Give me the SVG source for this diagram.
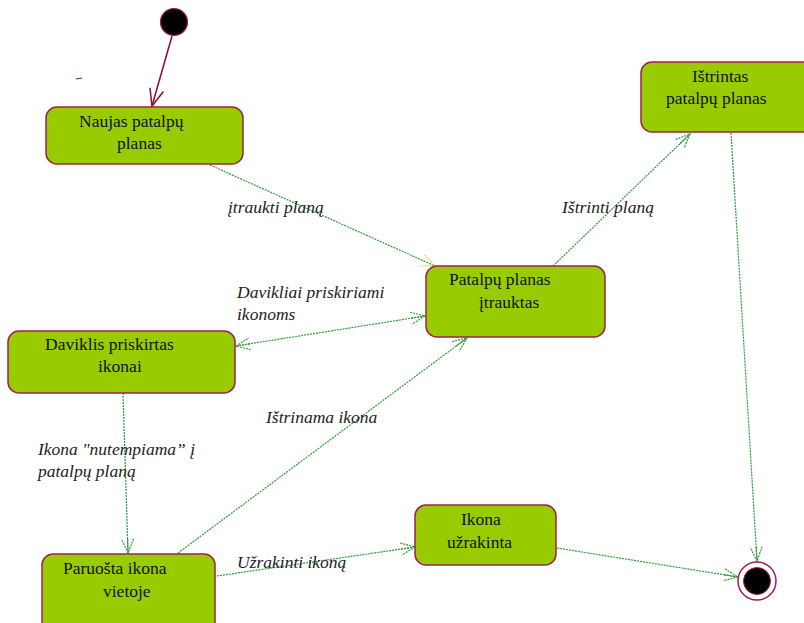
<svg xmlns="http://www.w3.org/2000/svg" width="804" height="623" viewBox="0 0 804 623">
  <style>
    .state rect { fill: #99cc00; stroke: #a0204a; stroke-width: 1.5; }
    .state text { font-family: "Liberation Serif", "Times New Roman", serif; font-size: 17.5px; fill: #111; }
    .lbl { font-family: "Liberation Serif", "Times New Roman", serif; font-size: 17.5px; font-style: italic; fill: #222; }
    .flow { fill: none; stroke: #2e9b3a; stroke-width: 1.2; stroke-dasharray: 2 1; }
  </style>
  <defs>
    <marker id="open" markerUnits="userSpaceOnUse" markerWidth="20" markerHeight="16" refX="15" refY="7" orient="auto-start-reverse" viewBox="0 0 20 16">
      <path d="M1,1 L15,7 L1,13 M1,7 L15,7" fill="none" stroke="#2e9b3a" stroke-width="1.2" stroke-dasharray="2 1"/>
    </marker>
    <marker id="openLight" markerUnits="userSpaceOnUse" markerWidth="20" markerHeight="16" refX="15" refY="7" orient="auto" viewBox="0 0 20 16">
      <path d="M1,1 L15,7 L1,13" fill="none" stroke="#c8e060" stroke-width="1.2" stroke-dasharray="2 1"/>
    </marker>
    <marker id="solid" markerUnits="userSpaceOnUse" markerWidth="22" markerHeight="16" refX="18" refY="8" orient="auto" viewBox="0 0 22 16">
      <path d="M1,1 L18,8 L1,15" fill="none" stroke="#8b0a3c" stroke-width="1.5"/>
    </marker>
  </defs>

  <!-- transitions -->
  <g id="connectors">
    <line x1="172" y1="36" x2="152" y2="106" stroke="#8b0a3c" stroke-width="1.5" marker-end="url(#solid)"/>
    <line x1="76" y1="79" x2="82" y2="78" stroke="#8b0a3c" stroke-width="1"/>
    <line class="flow" x1="210" y1="165" x2="435" y2="266" marker-end="url(#openLight)"/>
    <line class="flow" x1="553" y1="266" x2="690" y2="134" marker-end="url(#open)"/>
    <line class="flow" x1="731" y1="133" x2="757" y2="561" marker-end="url(#open)"/>
    <line class="flow" x1="236" y1="346" x2="425" y2="316" marker-start="url(#open)" marker-end="url(#open)"/>
    <line class="flow" x1="123" y1="393" x2="128" y2="553" marker-end="url(#open)"/>
    <line class="flow" x1="178" y1="553" x2="467" y2="338" marker-end="url(#open)"/>
    <line class="flow" x1="217" y1="576" x2="415" y2="547" marker-end="url(#open)"/>
    <line class="flow" x1="557" y1="548" x2="738" y2="577" marker-end="url(#open)"/>

    <text class="lbl" x="228" y="213">įtraukti planą</text>
    <text class="lbl" x="562" y="213">Ištrinti planą</text>
    <text class="lbl" x="237" y="298">Davikliai priskiriami</text>
    <text class="lbl" x="237" y="320">ikonoms</text>
    <text class="lbl" x="38" y="455">Ikona "nutempiama” į</text>
    <text class="lbl" x="38" y="477">patalpų planą</text>
    <text class="lbl" x="266" y="423">Ištrinama ikona</text>
    <text class="lbl" x="237" y="568">Užrakinti ikoną</text>
  </g>

  <!-- pseudo states -->
  <g id="initial">
    <circle cx="174" cy="22" r="13.5" fill="#000" stroke="#a0204a" stroke-width="1.2"/>
  </g>
  <g id="final">
    <circle cx="757" cy="581" r="19" fill="#fff" stroke="#a0204a" stroke-width="1.5"/>
    <circle cx="757" cy="581" r="13.5" fill="#000" stroke="#a0204a" stroke-width="1"/>
  </g>

  <!-- states -->
  <g id="naujas" class="state">
    <rect x="46" y="107" width="197" height="57" rx="11"/>
    <text x="79" y="127">Naujas patalpų</text>
    <text x="117" y="149">planas</text>
  </g>
  <g id="itrauktas" class="state">
    <rect x="426" y="266" width="179" height="71" rx="11"/>
    <text x="449" y="285">Patalpų planas</text>
    <text x="479" y="308">įtrauktas</text>
  </g>
  <g id="istrintas" class="state">
    <rect x="641" y="62" width="180" height="70" rx="11"/>
    <text x="692" y="82">Ištrintas</text>
    <text x="666" y="104">patalpų planas</text>
  </g>
  <g id="daviklis" class="state">
    <rect x="8" y="331" width="227" height="62" rx="11"/>
    <text x="45" y="350">Daviklis priskirtas</text>
    <text x="98" y="372">ikonai</text>
  </g>
  <g id="paruosta" class="state">
    <rect x="42" y="554" width="173" height="80" rx="11"/>
    <text x="63" y="574">Paruošta ikona</text>
    <text x="103" y="597">vietoje</text>
  </g>
  <g id="uzrakinta" class="state">
    <rect x="415" y="505" width="141" height="60" rx="11"/>
    <text x="461" y="525">Ikona</text>
    <text x="447" y="548">užrakinta</text>
  </g>
</svg>
